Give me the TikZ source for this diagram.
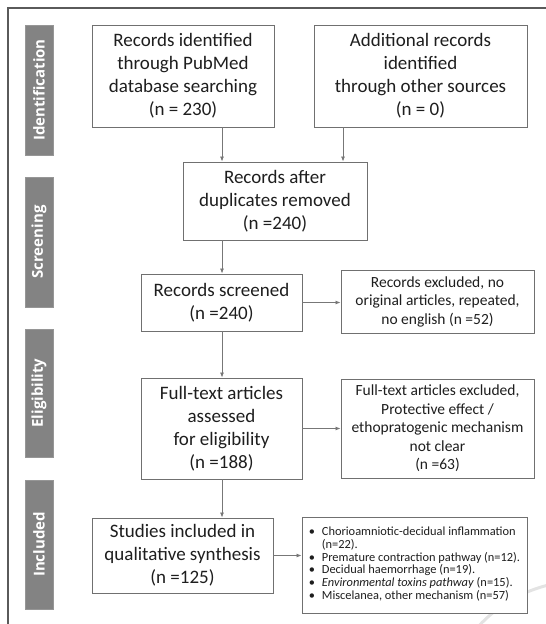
\documentclass[tikz,border=0pt]{standalone}
\usepackage{fontspec}
\setmainfont{Carlito}
\newfontfamily\sidefont{Open Sans}
\usetikzlibrary{arrows.meta}
\definecolor{framecol}{HTML}{5A5A5A}
\definecolor{boxline}{HTML}{707070}
\definecolor{barfill}{HTML}{838383}
\definecolor{arrowcol}{HTML}{777777}
\definecolor{txt}{HTML}{1E1E1E}
\tikzset{
  box/.style={draw=boxline, line width=0.9pt, fill=white, text=txt, align=center, inner sep=2pt},
  bigtext/.style={font=\fontsize{19}{23}\selectfont},
  smalltext/.style={font=\fontsize{15.5}{18.5}\selectfont},
  sidebar/.style={fill=barfill, draw=barfill!85!white, line width=0.6pt, text=white, rotate=90,
    minimum height=28pt, inner sep=0pt, font=\sidefont\bfseries\fontsize{15}{18}\selectfont},
  arr/.style={draw=arrowcol, line width=0.8pt, -{Latex[length=5pt,width=4pt]}}
}
\begin{document}
\begin{tikzpicture}[x=1pt,y=-1pt]
\useasboundingbox (0,0) rectangle (546,624);
% watermark arc
\begin{scope}
\clip (0,0) rectangle (546,624);
\node[circle, draw=gray!22, line width=3pt, minimum size=282pt] (wm) at (582,722) {};
\end{scope}
% frame
\coordinate (fa) at (8,624);
\coordinate (fb) at (8,8);
\coordinate (fc) at (546,8);
\draw[framecol, line width=1.6pt] (fa) -- (fb) -- (fc);
% side bars
\node[sidebar, minimum width=130pt] (s1) at (39,90) {Identification};
\node[sidebar, minimum width=130pt] (s2) at (39,242) {Screening};
\node[sidebar, minimum width=128pt] (s3) at (39,393) {Eligibility};
\node[sidebar, minimum width=129pt] (s4) at (39,544.5) {Included};
% boxes
\node[box, bigtext, minimum width=182pt, minimum height=102pt] (b1) at (183,76)
  {Records identified\\through PubMed\\database searching\\(n = 230)};
\node[box, bigtext, minimum width=213pt, minimum height=102pt] (b2) at (420.5,76)
  {Additional records\\identified\\through other sources\\(n = 0)};
\node[box, bigtext, minimum width=184pt, minimum height=78pt] (b3) at (275,201)
  {Records after\\duplicates removed\\(n =240)};
\node[box, bigtext, minimum width=161pt, minimum height=57pt] (b4) at (221.5,302.5)
  {Records screened\\(n =240)};
\node[box, smalltext, minimum width=193pt, minimum height=63pt] (b5) at (437.5,301.5)
  {Records excluded, no\\original articles, repeated,\\no english (n =52)};
\node[box, bigtext, minimum width=161pt, minimum height=101pt] (b6) at (221.5,428.5)
  {Full-text articles\\assessed\\for eligibility\\(n =188)};
\node[box, smalltext, minimum width=193pt, minimum height=99pt] (b7) at (437.5,428.5)
  {Full-text articles excluded,\\Protective effect /\\ethopratogenic mechanism\\not clear\\(n =63)};
\node[box, bigtext, minimum width=181pt, minimum height=75pt] (b8) at (182.5,555.5)
  {Studies included in\\qualitative synthesis\\(n =125)};
\node[box, minimum width=225pt, minimum height=96pt, font=\fontsize{12.4}{12}\selectfont] (b9) at (414.5,565)
  {\renewcommand\arraystretch{1}\begin{tabular}{@{}p{13pt}@{}l@{}}
   \textbullet & Chorioamniotic-decidual inflammation\\
    & (n=22).\\
   \textbullet & Premature contraction pathway (n=12).\\
   \textbullet & Decidual haemorrhage (n=19).\\
   \textbullet & \textit{Environmental toxins pathway} (n=15).\\
   \textbullet & Miscelanea, other mechanism (n=57)
  \end{tabular}};
% connectors
\coordinate (ax) at (222,0);
\coordinate (bx) at (343,0);
\draw[arr] (b1.south -| ax) -- (b3.north -| ax);
\draw[arr] (b2.south -| bx) -- (b3.north -| bx);
\draw[arr] (b3.south -| ax) -- (b4.north -| ax);
\draw[arr] (b4.east) -- (b4.east -| b5.west);
\draw[arr] (b4.south -| ax) -- (b6.north -| ax);
\draw[arr] (b6.east) -- (b6.east -| b7.west);
\draw[arr] (b6.south -| ax) -- (b8.north -| ax);
\draw[arr] (b8.east) -- (b8.east -| b9.west);
\end{tikzpicture}
\end{document}
